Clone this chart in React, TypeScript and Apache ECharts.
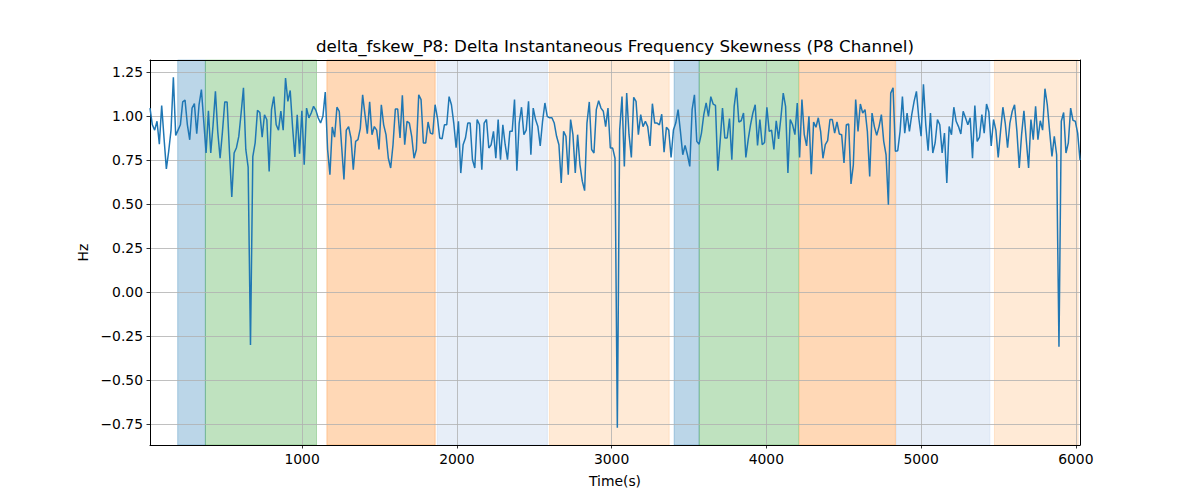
import React, { useEffect, useRef } from 'react';
import * as echarts from 'echarts';

const TITLE = 'delta_fskew_P8: Delta Instantaneous Frequency Skewness (P8 Channel)';
const X_NAME = 'Time(s)';
const Y_NAME = 'Hz';

// uniformly sampled series: time of first sample and sampling step (s)
const T_START = 17;
const T_STEP = 15.1;

const values: number[] = [
  // 0 - 1000 s
  1.045, 0.95, 0.92, 0.97, 0.84, 1.06, 0.875, 0.70, 0.80, 0.92, 1.22, 0.89, 0.92, 0.95, 1.08, 1.09, 0.95, 0.865, 1.045, 1.07,
  0.90, 1.065, 1.15, 0.97, 0.79, 1.03, 0.79, 0.95, 1.14, 0.91, 0.76, 0.91, 1.08, 1.08, 0.80, 0.54, 0.79, 0.82, 0.884, 1.017,
  1.16, 0.81, 0.71, -0.30,
  0.77, 0.847, 1.032, 1.02, 0.88, 1.007, 0.979, 0.685, 1.036, 1.11, 0.95, 0.92, 1.028, 0.92, 1.216, 1.083, 1.145, 0.94, 0.767, 1.007,
  0.786, 1.03, 0.723, 1.045, 0.989, 1.017, 1.055, 1.032, 0.989, 0.96, 0.998, 1.136, 0.81, 0.667, 0.938, 0.88, 1.05,
  // ~1300 - 2000 s
  1.027, 0.83, 0.64, 0.92, 0.94, 0.875, 0.695, 0.856, 0.866, 0.93, 1.12, 1.008, 0.90, 1.08, 0.894, 0.94, 0.92, 0.81, 1.064, 0.95,
  0.894, 0.76, 0.705, 0.837, 1.04, 1.04, 0.875, 1.117, 0.837, 0.97, 0.96, 0.885, 0.76, 0.81, 1.12, 1.093, 0.847, 0.847, 0.966, 0.903,
  0.898, 1.064, 0.99, 0.875, 0.87, 0.95, 0.95, 1.11, 1.064, 0.96, 0.82, 0.97,
  // ~2000 - 3000 s
  0.676, 0.837, 0.875, 0.96, 0.96, 0.752, 0.705, 0.98, 0.95, 0.695, 0.96, 0.98, 0.818, 0.837, 0.913, 0.76, 0.98, 0.752, 0.95, 0.837,
  0.752, 0.913, 0.913, 1.093, 0.69, 0.96, 1.05, 0.894, 0.92, 1.083, 0.78, 1.045, 0.98, 0.94, 0.83, 0.97, 1.074, 0.998, 0.99, 0.99,
  0.96, 0.885, 0.837, 0.62, 0.913, 0.885, 0.667, 0.98, 0.894, 0.676, 0.894, 0.723, 0.63, 0.576, 0.96, 1.08, 0.81, 0.79, 1.036, 1.087,
  1.045, 1.027, 0.94, 1.045, 0.818, 0.818, 0.76, -0.77,
  // ~3000 - 4000 s
  0.92, 1.11, 0.714, 1.13, 0.894, 0.765, 1.106, 1.083, 0.894, 1.008, 0.94, 0.97, 0.94, 0.83, 1.07, 0.96, 0.96, 0.95, 1.01, 0.795,
  0.936, 0.92, 0.765, 0.92, 0.96, 1.036, 0.913, 0.78, 0.833, 0.78, 0.714, 1.036, 1.12, 0.856, 0.84, 0.903, 1.008, 1.074, 0.998, 1.11,
  1.068, 1.06, 0.69, 0.856, 1.045, 0.875, 0.875, 0.985, 0.752, 1.055, 1.16, 0.966, 0.973, 1.017, 0.765, 0.866, 0.95, 1.017, 1.064, 0.833,
  0.98, 0.837, 0.85, 1.05,
  // ~4000 - 5000 s
  0.913, 0.92, 0.81, 0.973, 0.87, 0.99, 1.13, 1.055, 0.676, 0.98, 0.95, 0.894, 1.074, 0.765, 1.093, 0.894, 0.83, 0.998, 0.67, 0.966,
  0.936, 0.99, 0.913, 0.76, 0.837, 0.86, 0.98, 0.98, 0.903, 0.966, 0.898, 0.894, 0.733, 0.95, 0.955, 0.614, 0.723, 1.093, 0.913, 1.068,
  1.017, 1.036, 0.913, 0.657, 1.017, 0.94, 0.89, 0.94, 1.008, 0.856, 0.78, 0.496, 1.13, 1.16, 0.80, 0.803, 0.913, 1.11, 0.903, 1.017,
  0.913, 1.008, 1.083, 1.14, 0.99, 0.885, 1.18,
  // ~5000 - 6030 s
  0.95, 0.803, 1.017, 0.79, 0.847, 0.98, 0.95, 0.79, 0.903, 0.62, 0.94, 0.894, 1.05, 0.97, 0.94, 0.898, 1.027, 0.99, 0.95, 0.99,
  0.76, 1.06, 0.856, 0.88, 1.008, 0.903, 1.068, 1.023, 0.83, 0.98, 0.92, 0.765, 0.913, 1.05, 0.96, 0.82, 0.96, 1.027, 1.064, 0.913,
  0.705, 0.894, 1.03, 0.866, 0.705, 0.98, 0.866, 1.055, 0.866, 0.973, 0.92, 1.155, 1.064, 0.913, 0.77, 0.885, 0.78, -0.31,
  0.97, 1.02, 0.79, 0.847, 1.045, 0.975, 0.97, 0.903, 0.75,
];

const xTicks = [1000, 2000, 3000, 4000, 5000, 6000];
const yTicks = [-0.75, -0.5, -0.25, 0, 0.25, 0.5, 0.75, 1.0, 1.25];
const Y_MIN = -0.868;
const Y_MAX = 1.318;

// shaded segments (s)
const bandStarts = [196, 375, 1160, 1873, 2598, 3404, 3566, 4213, 4840, 5474];
const bandEnds = [375, 1093, 1860, 2585, 3372, 3566, 4208, 4834, 5444, 6015];
const bandKinds = ['A', 'B', 'C', 'D', 'E', 'A', 'B', 'C', 'D', 'E'];

const kindColors: Record<string, string> = {
  A: 'rgba(31,119,180,0.3)',
  B: 'rgba(44,160,44,0.3)',
  C: 'rgba(255,127,14,0.3)',
  D: 'rgba(174,199,232,0.3)',
  E: 'rgba(255,187,120,0.3)',
};

const FONT = 'DejaVu Sans';

export default function App() {
  const ref = useRef<HTMLDivElement>(null);
  useEffect(() => {
    if (!ref.current) return;
    const chart = echarts.init(ref.current, undefined, { renderer: 'svg' });
    const seriesData = values.map((v, i) => [T_START + i * T_STEP, v]);
    const xMin = T_START;
    const xMax = T_START + (values.length - 1) * T_STEP;
    const fmtY = (v: number) => (v < 0 ? '\u2212' : '') + Math.abs(v).toFixed(2);
    const gridLine = { show: true, lineStyle: { color: '#b0b0b0', width: 0.8 } };
    const labelStyle = { color: '#000', fontSize: 13.9, fontFamily: FONT };

    chart.setOption({
      animation: false,
      backgroundColor: '#fff',
      grid: { left: 150, right: 120, top: 60, bottom: 55, containLabel: false },
      graphic: [
        {
          type: 'text',
          x: 615,
          y: 46,
          style: {
            text: TITLE,
            textAlign: 'center',
            textVerticalAlign: 'middle',
            fontSize: 16.7,
            fontFamily: FONT,
            fill: '#000',
          },
        },
      ],
      xAxis: [
        {
          type: 'value',
          min: xMin,
          max: xMax,
          z: 3,
          position: 'bottom',
          axisLine: { show: true, onZero: false, lineStyle: { color: '#000', width: 1 } },
          axisTick: { show: true, length: 3.5, customValues: xTicks, lineStyle: { color: '#000', width: 0.8 } },
          axisLabel: { ...labelStyle, margin: 7, customValues: xTicks, formatter: (v: number) => String(v) },
          splitLine: gridLine,
          name: X_NAME,
          nameLocation: 'middle',
          nameGap: 29,
          nameTextStyle: { ...labelStyle },
        },
        {
          type: 'value',
          min: xMin,
          max: xMax,
          z: 3,
          position: 'top',
          axisLine: { show: true, onZero: false, lineStyle: { color: '#000', width: 1 } },
          axisTick: { show: false },
          axisLabel: { show: false },
          splitLine: { show: false },
        },
      ],
      yAxis: [
        {
          type: 'value',
          min: Y_MIN,
          max: Y_MAX,
          z: 3,
          position: 'left',
          axisLine: { show: true, onZero: false, lineStyle: { color: '#000', width: 1 } },
          axisTick: { show: true, length: 3.5, customValues: yTicks, lineStyle: { color: '#000', width: 0.8 } },
          axisLabel: { ...labelStyle, margin: 7, customValues: yTicks, formatter: fmtY },
          splitLine: gridLine,
          name: Y_NAME,
          nameLocation: 'middle',
          nameGap: 56,
          nameTextStyle: { ...labelStyle },
        },
        {
          type: 'value',
          min: Y_MIN,
          max: Y_MAX,
          z: 3,
          position: 'right',
          axisLine: { show: true, onZero: false, lineStyle: { color: '#000', width: 1 } },
          axisTick: { show: false },
          axisLabel: { show: false },
          splitLine: { show: false },
        },
      ],
      series: [
        {
          type: 'line',
          z: 1,
          silent: true,
          data: seriesData,
          showSymbol: false,
          lineStyle: { opacity: 0, width: 0 },
          markArea: {
            silent: true,
            data: bandStarts.map((s, i) => [
              {
                xAxis: s,
                itemStyle: {
                  color: kindColors[bandKinds[i]],
                  borderColor: kindColors[bandKinds[i]],
                  borderWidth: 1,
                },
              },
              { xAxis: bandEnds[i] },
            ]),
          },
        },
        {
          type: 'line',
          z: 5,
          data: seriesData,
          showSymbol: false,
          symbol: 'none',
          clip: true,
          lineStyle: { color: '#1f77b4', width: 1.5 },
        },
      ],
    });
    return () => chart.dispose();
  }, []);
  return (
    <div
      ref={ref}
      style={{ position: 'fixed', left: 0, top: 0, width: 1200, height: 500, background: '#fff' }}
    />
  );
}
